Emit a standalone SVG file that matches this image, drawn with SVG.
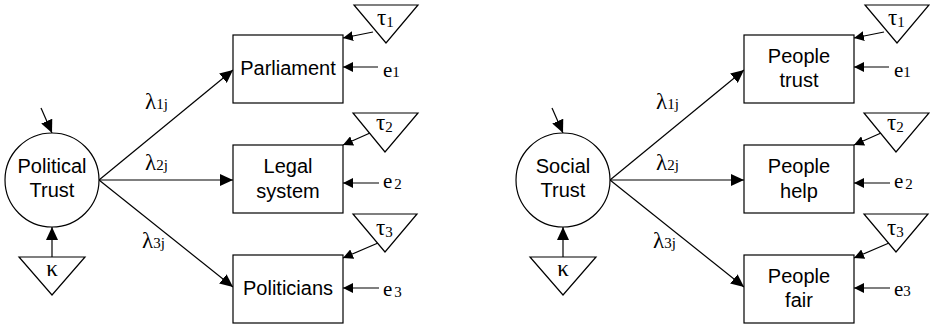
<svg xmlns="http://www.w3.org/2000/svg" width="930" height="324" viewBox="0 0 930 324">
<style>
.sh{fill:#fff;stroke:#000;stroke-width:1.2}
.ln{stroke:#000;stroke-width:1.2;fill:none}
.big{marker-end:url(#ah)}
.sm{marker-end:url(#as)}
.sans{font-family:"Liberation Sans",Arial,sans-serif;font-size:20px;text-anchor:middle;fill:#000}
.ser{font-family:"Liberation Serif","Times New Roman",serif;font-size:21px;fill:#000}
.gr{font-size:23px}
.sub{font-size:15px}
</style>
<defs>
<marker id="ah" viewBox="0 0 13 12" refX="13" refY="6" markerWidth="13" markerHeight="12" markerUnits="userSpaceOnUse" orient="auto"><path d="M0,0 L13,6 L0,12 z" fill="#000"/></marker>
<marker id="as" viewBox="0 0 10 10" refX="10" refY="5" markerWidth="10" markerHeight="10" markerUnits="userSpaceOnUse" orient="auto"><path d="M0,0 L10,5 L0,10 z" fill="#000"/></marker>
</defs>
<rect width="930" height="324" fill="#fff"/>

<g id="political-panel">
<g id="connectors-political">
<line class="ln big" x1="99" y1="180" x2="233" y2="70"/>
<line class="ln big" x1="99" y1="180" x2="233" y2="180"/>
<line class="ln big" x1="99" y1="180" x2="233" y2="287"/>
<line class="ln big" x1="41" y1="108" x2="52" y2="133"/>
<line class="ln big" x1="52" y1="257" x2="52" y2="227"/>
<line class="ln sm" x1="373" y1="32" x2="343" y2="38"/>
<line class="ln sm" x1="370" y1="133" x2="343" y2="145"/>
<line class="ln sm" x1="378" y1="243" x2="343" y2="258"/>
<line class="ln sm" x1="378" y1="67" x2="343" y2="67"/>
<line class="ln sm" x1="379" y1="183" x2="343" y2="183"/>
<line class="ln sm" x1="379" y1="288" x2="343" y2="288"/>
</g>
<g id="political-trust"><circle class="sh" cx="52" cy="180" r="47"/><text class="sans" x="52" y="173">Political</text><text class="sans" x="52" y="197">Trust</text></g>
<g id="kappa-political"><polygon class="sh" points="19,257 85,257 52,295"/><text class="ser gr" x="52" y="276" text-anchor="middle">κ</text></g>
<g id="parliament"><rect class="sh" x="233" y="35" width="110" height="68"/><text class="sans" x="288" y="75">Parliament</text></g>
<g id="legal-system"><rect class="sh" x="233" y="145" width="110" height="68"/><text class="sans" x="288" y="173">Legal</text><text class="sans" x="288" y="198">system</text></g>
<g id="politicians"><rect class="sh" x="233" y="255" width="110" height="68"/><text class="sans" x="288" y="295">Politicians</text></g>
<g id="tau1-political"><polygon class="sh" points="354,5 418,5 386,43"/><text class="ser gr" x="377" y="25">τ<tspan class="sub" dy="2">1</tspan></text></g>
<g id="tau2-political"><polygon class="sh" points="353,113 418,113 385,152"/><text class="ser gr" x="376" y="130">τ<tspan class="sub" dy="2">2</tspan></text></g>
<g id="tau3-political"><polygon class="sh" points="353,214 417,214 385,252"/><text class="ser gr" x="376" y="235">τ<tspan class="sub" dy="2">3</tspan></text></g>
<g id="e1-political"><text class="ser" x="383" y="77">e<tspan class="sub">1</tspan></text></g>
<g id="e2-political"><text class="ser" x="383" y="188">e<tspan class="sub" dx="2" dy="1">2</tspan></text></g>
<g id="e3-political"><text class="ser" x="383" y="296">e<tspan class="sub" dx="2" dy="1">3</tspan></text></g>
<g id="lambdas-political">
<text class="ser gr" x="145" y="109">λ<tspan class="sub">1j</tspan></text>
<text class="ser gr" x="145" y="170">λ<tspan class="sub">2j</tspan></text>
<text class="ser gr" x="142" y="248">λ<tspan class="sub">3j</tspan></text>
</g>
</g>

<g id="social-panel" transform="translate(511,0)">
<g id="connectors-social">
<line class="ln big" x1="99" y1="180" x2="233" y2="70"/>
<line class="ln big" x1="99" y1="180" x2="233" y2="180"/>
<line class="ln big" x1="99" y1="180" x2="233" y2="287"/>
<line class="ln big" x1="41" y1="108" x2="52" y2="133"/>
<line class="ln big" x1="52" y1="257" x2="52" y2="227"/>
<line class="ln sm" x1="373" y1="32" x2="343" y2="38"/>
<line class="ln sm" x1="370" y1="133" x2="343" y2="145"/>
<line class="ln sm" x1="378" y1="243" x2="343" y2="258"/>
<line class="ln sm" x1="378" y1="67" x2="343" y2="67"/>
<line class="ln sm" x1="379" y1="183" x2="343" y2="183"/>
<line class="ln sm" x1="379" y1="288" x2="343" y2="288"/>
</g>
<g id="social-trust"><circle class="sh" cx="52" cy="180" r="47"/><text class="sans" x="52" y="173">Social</text><text class="sans" x="52" y="197">Trust</text></g>
<g id="kappa-social"><polygon class="sh" points="19,257 85,257 52,295"/><text class="ser gr" x="52" y="276" text-anchor="middle">κ</text></g>
<g id="people-trust"><rect class="sh" x="233" y="35" width="110" height="68"/><text class="sans" x="288" y="63">People</text><text class="sans" x="288" y="87">trust</text></g>
<g id="people-help"><rect class="sh" x="233" y="145" width="110" height="68"/><text class="sans" x="288" y="173">People</text><text class="sans" x="288" y="198">help</text></g>
<g id="people-fair"><rect class="sh" x="233" y="255" width="110" height="68"/><text class="sans" x="288" y="283">People</text><text class="sans" x="288" y="307">fair</text></g>
<g id="tau1-social"><polygon class="sh" points="354,5 418,5 386,43"/><text class="ser gr" x="377" y="25">τ<tspan class="sub" dy="2">1</tspan></text></g>
<g id="tau2-social"><polygon class="sh" points="353,113 418,113 385,152"/><text class="ser gr" x="376" y="130">τ<tspan class="sub" dy="2">2</tspan></text></g>
<g id="tau3-social"><polygon class="sh" points="353,214 417,214 385,252"/><text class="ser gr" x="376" y="235">τ<tspan class="sub" dy="2">3</tspan></text></g>
<g id="e1-social"><text class="ser" x="383" y="77">e<tspan class="sub">1</tspan></text></g>
<g id="e2-social"><text class="ser" x="383" y="188">e<tspan class="sub" dx="2" dy="1">2</tspan></text></g>
<g id="e3-social"><text class="ser" x="383" y="296">e<tspan class="sub">3</tspan></text></g>
<g id="lambdas-social">
<text class="ser gr" x="145" y="109">λ<tspan class="sub">1j</tspan></text>
<text class="ser gr" x="145" y="170">λ<tspan class="sub">2j</tspan></text>
<text class="ser gr" x="142" y="248">λ<tspan class="sub">3j</tspan></text>
</g>
</g>
</svg>
